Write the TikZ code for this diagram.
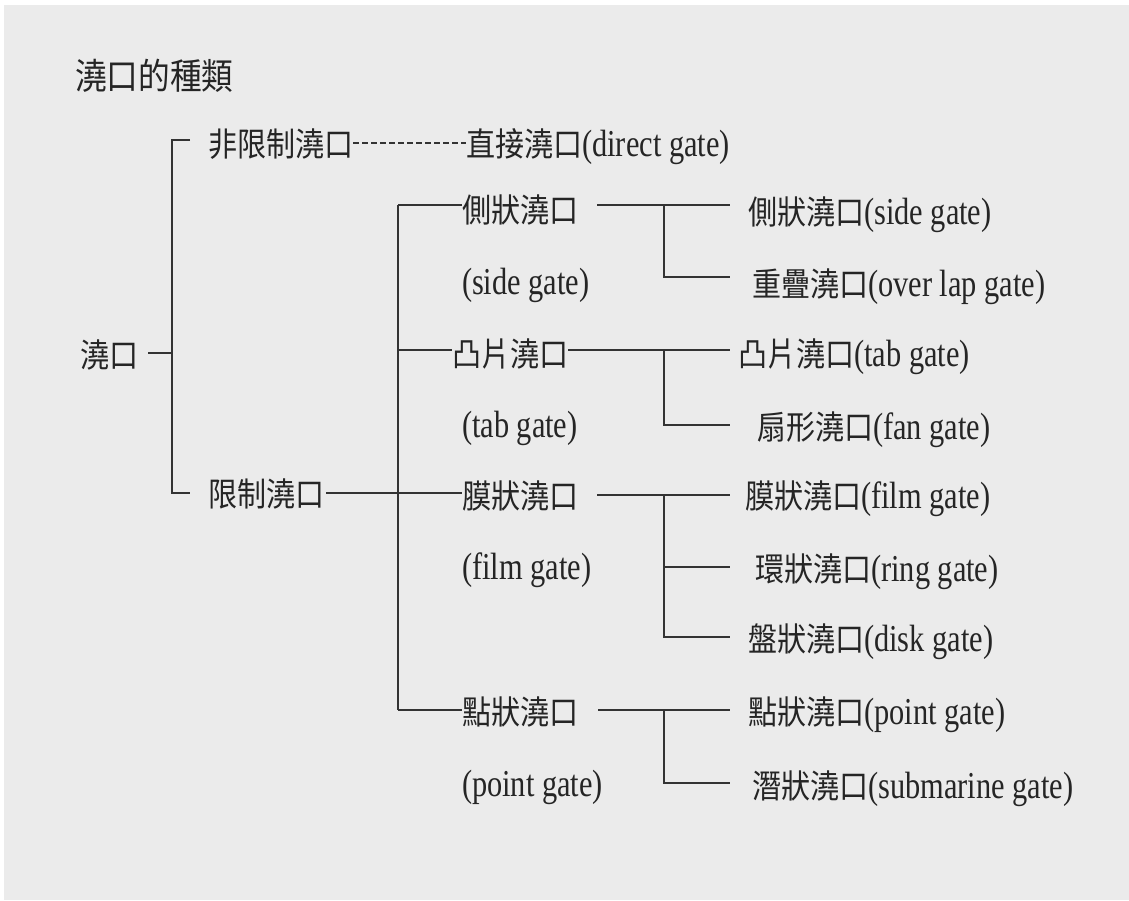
\documentclass[tikz,border=0pt]{standalone}
\usepackage{fontspec}
\setmainfont{Liberation Serif}[FakeStretch=0.8]
\newfontfamily\cjkfont{Noto Sans CJK TC}[FakeStretch=0.88]
\newcommand\cj[1]{{\fontsize{33}{38}\cjkfont #1}}
\newcommand\cjt[1]{{\fontsize{36}{40}\cjkfont #1}}
\definecolor{bg}{HTML}{EBEBEB}
\definecolor{txt}{HTML}{252525}
\definecolor{ln}{HTML}{333333}
\tikzset{
  lab/.style={inner sep=0pt, outer sep=0pt, anchor=base west, text=txt, font=\fontsize{38}{42}\selectfont},
  conn/.style={draw=ln, line width=2.2pt},
  dashconn/.style={draw=ln, line width=2.4pt, dash pattern=on 6pt off 3pt}
}
\begin{document}
\begin{tikzpicture}[x=1pt,y=-1pt]
\useasboundingbox (0,0) rectangle (1129,900);
\fill[white] (0,0) rectangle (1129,900);
\fill[bg] (4,5) rectangle (1129,900);

% texts
\node[lab] (title) at (75,89) {\cjt{澆口的種類}};
\node[lab] (root) at (80,367) {\cj{澆口}};
\node[lab] (nonres) at (208,156) {\cj{非限制澆口}};
\node[lab] (direct) at (466,156) {\cj{直接澆口}(direct gate)};
\node[lab] (res) at (208,506) {\cj{限制澆口}};

\node[lab] (side) at (462,222) {\cj{側狀澆口}};
\node[lab] (sideE) at (462,294) {(side gate)};
\node[lab] (tab) at (452,366) {\cj{凸片澆口}};
\node[lab] (tabE) at (462,437) {(tab gate)};
\node[lab] (film) at (462,508) {\cj{膜狀澆口}};
\node[lab] (filmE) at (462,579) {(film gate)};
\node[lab] (point) at (462,724) {\cj{點狀澆口}};
\node[lab] (pointE) at (462,796) {(point gate)};

\node[lab] (s1) at (748,224) {\cj{側狀澆口}(side gate)};
\node[lab] (s2) at (752,296) {\cj{重疊澆口}(over lap gate)};
\node[lab] (t1) at (738,366) {\cj{凸片澆口}(tab gate)};
\node[lab] (t2) at (757,439) {\cj{扇形澆口}(fan gate)};
\node[lab] (f1) at (745,508) {\cj{膜狀澆口}(film gate)};
\node[lab] (f2) at (755,581) {\cj{環狀澆口}(ring gate)};
\node[lab] (f3) at (748,651) {\cj{盤狀澆口}(disk gate)};
\node[lab] (p1) at (748,724) {\cj{點狀澆口}(point gate)};
\node[lab] (p2) at (752,798) {\cj{潛狀澆口}(submarine gate)};

% junction coordinates
\coordinate (m1) at (190,140);
\coordinate (m2) at (172,140);
\coordinate (m3) at (172,493);
\coordinate (m4) at (190,493);
\coordinate (mr) at (172,353);
\coordinate (rt) at (148,353);
\coordinate (dy) at (0,143);

\coordinate (v1) at (398,205);
\coordinate (v2) at (398,350);
\coordinate (v3) at (398,493);
\coordinate (v4) at (398,710);

\coordinate (e) at (730,0);
\coordinate (jx) at (664,0);

% level 1
\draw[conn] (m1) -- (m2) -- (m3) -- (m4);
\draw[conn] (rt) -- (mr);
\draw[dashconn] (nonres.east |- dy) -- (direct.west |- dy);
\draw[conn] ([xshift=2pt]res.east |- v3) -- (film.west |- v3);

% level 2
\draw[conn] (v1) -- (v4);
\draw[conn] (v1) -- (side.west |- v1);
\draw[conn] (v2) -- (tab.west |- v2);
\draw[conn] (v4) -- (point.west |- v4);

% level 3 : side
\coordinate (sa) at (597,205);
\draw[conn] (sa) -- (e |- sa);
\coordinate (sb) at (664,277);
\draw[conn] (jx |- sa) -- (sb) -- (e |- sb);
% tab
\coordinate (ta) at (664,350);
\coordinate (tb) at (664,425);
\draw[conn] (tab.east |- ta) -- (e |- ta);
\draw[conn] (ta) -- (tb) -- (e |- tb);
% film
\coordinate (fa) at (597,495);
\coordinate (fb) at (664,567);
\coordinate (fc) at (664,637);
\draw[conn] (fa) -- (e |- fa);
\draw[conn] (jx |- fa) -- (fc) -- (e |- fc);
\draw[conn] (fb) -- (e |- fb);
% point
\coordinate (pa) at (598,710);
\coordinate (pb) at (664,783);
\draw[conn] (pa) -- (e |- pa);
\draw[conn] (jx |- pa) -- (pb) -- (e |- pb);
\end{tikzpicture}
\end{document}
